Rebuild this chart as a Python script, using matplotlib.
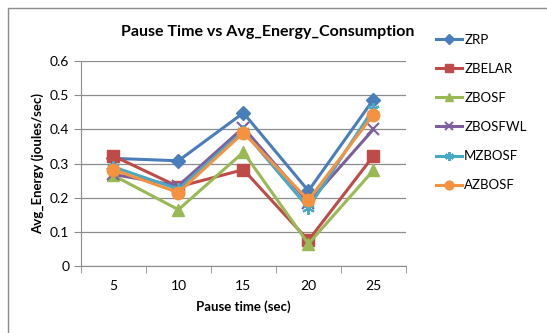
import matplotlib
matplotlib.use("Agg")
import matplotlib.pyplot as plt
from matplotlib.patches import Rectangle

plt.rcParams['font.family'] = ['Lato', 'DejaVu Sans']

pause_times = ["5", "10", "15", "20", "25"]

zrp = [0.315, 0.308, 0.448, 0.220, 0.487]
zbelar = [0.322, 0.232, 0.282, 0.075, 0.322]
zbosf = [0.265, 0.165, 0.333, 0.065, 0.280]
zbosfwl = [0.268, 0.235, 0.405, 0.185, 0.400]
mzbosf = [0.290, 0.225, 0.395, 0.170, 0.460]
azbosf = [0.282, 0.215, 0.390, 0.193, 0.443]

series = [
    ("ZRP", zrp, "#4A7EBB", "D", 7),
    ("ZBELAR", zbelar, "#BE4B48", "s", 8),
    ("ZBOSF", zbosf, "#98B954", "^", 9),
    ("ZBOSFWL", zbosfwl, "#7D5FA0", "x", 8),
    ("MZBOSF", mzbosf, "#46AAC5", (6, 2, 0), 9),
    ("AZBOSF", azbosf, "#F59240", "o", 9),
]

fig = plt.figure(figsize=(5.47, 3.33), dpi=100)
fig.patches.append(Rectangle((0.015, -0.01), 1.0, 1.0 - 0.015, transform=fig.transFigure,
                             fill=False, edgecolor="#8c8c8c", linewidth=1.0))
ax = fig.add_axes([0.148, 0.201, 0.594, 0.616])

x = list(range(len(pause_times)))
for name, vals, col, mk, ms in series:
    ax.plot(x, vals, color=col, linewidth=2.2, marker=mk, markersize=ms,
            markeredgewidth=1.5 if mk in ("x", (6, 2, 0)) else 1.0,
            markeredgecolor=col, markerfacecolor=col, label=name)

ax.set_xlim(-0.5, len(pause_times) - 0.5)
ax.set_ylim(0, 0.6)
ax.set_yticks([0, 0.1, 0.2, 0.3, 0.4, 0.5, 0.6])
ax.set_yticklabels(["0", "0.1", "0.2", "0.3", "0.4", "0.5", "0.6"])
ax.set_xticks(x)
ax.set_xticklabels(pause_times)
ax.tick_params(axis="x", length=0, labelsize=10, pad=10)
ax.set_xticks([i - 0.5 for i in range(len(pause_times) + 1)], minor=True)
ax.tick_params(axis="x", which="minor", length=5, color="#8c8c8c", direction="out")
ax.tick_params(axis="y", length=5, color="#8c8c8c", direction="out", labelsize=10)

ax.grid(axis="y", color="#8c8c8c", linewidth=0.9)
ax.set_axisbelow(True)
for side in ("top", "right"):
    ax.spines[side].set_visible(False)
for side in ("left", "bottom"):
    ax.spines[side].set_color("#8c8c8c")

ax.set_xlabel("Pause time (sec)", fontsize=9.5, fontweight="bold", labelpad=6)
ax.set_ylabel("Avg_Energy (joules/sec)", fontsize=9.5, fontweight="bold", labelpad=4)
fig.text(0.49, 0.905, "Pause Time vs Avg_Energy_Consumption", ha="center", va="center",
         fontsize=11.5, fontweight="bold")

leg = fig.legend(loc="upper left", bbox_to_anchor=(0.787, 0.915), frameon=False,
                 fontsize=9.5, labelspacing=1.3, handlelength=2.0, handletextpad=0.15,
                 markerscale=0.7, borderaxespad=0)

fig.savefig("out.png", dpi=100)
